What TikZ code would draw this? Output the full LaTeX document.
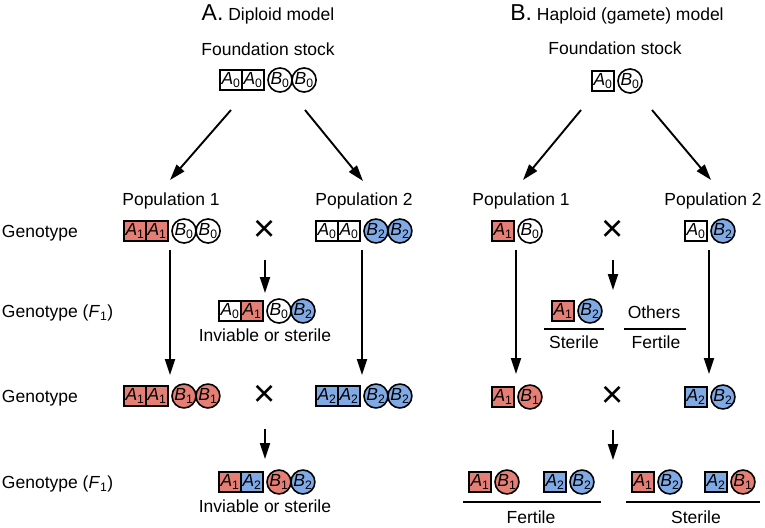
\documentclass[tikz,border=0pt]{standalone}
\usepackage{fontspec}
\setmainfont{Liberation Sans}
\usetikzlibrary{positioning, arrows.meta}
\definecolor{popred}{RGB}{229,127,117}
\definecolor{popblue}{RGB}{128,170,230}
\newcommand{\al}[2]{\textit{#1}\textsubscript{#2}}
\newcommand{\txtsize}{\fontsize{17.5}{21}\selectfont}
\newcommand{\alsize}{\fontsize{17.5}{20}\selectfont}
\tikzset{
    alA/.style={draw, rectangle, line width=1.6pt, outer sep=0pt, inner sep=0pt,
        minimum width=22pt, minimum height=20.5pt, font=\alsize},
    alB/.style={draw, circle, line width=1.6pt, outer sep=0pt, inner sep=0pt,
        minimum size=23.5pt, font=\alsize},
    rd/.style={fill=popred},
    bl/.style={fill=popblue},
    lbl/.style={inner sep=0pt, font=\txtsize},
    cross/.style={inner sep=0pt, font=\fontsize{38}{38}\selectfont},
}

\begin{document}
\begin{tikzpicture}[x=1pt, y=-1pt, >={Triangle[length=16pt,width=10pt]}, line width=1.9pt]
    \useasboundingbox (0,0) rectangle (765,527);

    % titles
    \node[lbl] (titA) at (268,14) {{\fontsize{23}{24}\selectfont A.} Diploid model};
    \node[lbl] (titB) at (617,14) {{\fontsize{23}{24}\selectfont B.} Haploid (gamete) model};
    \node[lbl] (stockA) at (268,49) {Foundation stock};
    \node[lbl] (stockB) at (615,48) {Foundation stock};

    % row labels
    \node[lbl, anchor=west] (gt1) at (1,233) {Genotype};
    \node[lbl, anchor=west] (gt2) at (1,313) {Genotype (\textit{F}\textsubscript{1})};
    \node[lbl, anchor=west] (gt3) at (1,398) {Genotype};
    \node[lbl, anchor=west] (gt4) at (1,484) {Genotype (\textit{F}\textsubscript{1})};

    % A: foundation stock
    \coordinate (fA) at (266,80);
    \node[alA, left=2pt of fA] (fAa2) {\al{A}{0}};
    \node[alA, left=0pt of fAa2] (fAa1) {\al{A}{0}};
    \node[alB, right=2pt of fA] (fAb1) {\al{B}{0}};
    \node[alB, right=0pt of fAb1] (fAb2) {\al{B}{0}};

    \node[lbl] (popA1) at (171,201) {Population 1};
    \node[lbl] (popA2) at (364,201) {Population 2};

    % A: populations
    \coordinate (gA1) at (170,231);
    \node[alA, rd, left=2pt of gA1] (gA1a2) {\al{A}{1}};
    \node[alA, rd, left=0pt of gA1a2] (gA1a1) {\al{A}{1}};
    \node[alB, right=2pt of gA1] (gA1b1) {\al{B}{0}};
    \node[alB, right=0pt of gA1b1] (gA1b2) {\al{B}{0}};

    \coordinate (gA2) at (362,231);
    \node[alA, left=2pt of gA2] (gA2a2) {\al{A}{0}};
    \node[alA, left=0pt of gA2a2] (gA2a1) {\al{A}{0}};
    \node[alB, bl, right=2pt of gA2] (gA2b1) {\al{B}{2}};
    \node[alB, bl, right=0pt of gA2b1] (gA2b2) {\al{B}{2}};

    \node[cross] (xA1) at (265,231) {×};

    % A: first F1
    \coordinate (hA1) at (265,311);
    \node[alA, rd, left=2pt of hA1] (hA1a2) {\al{A}{1}};
    \node[alA, left=0pt of hA1a2] (hA1a1) {\al{A}{0}};
    \node[alB, right=2pt of hA1] (hA1b1) {\al{B}{0}};
    \node[alB, bl, right=0pt of hA1b1] (hA1b2) {\al{B}{2}};
    \node[lbl] (invA1) at (265,335) {Inviable or sterile};

    % A: diverged populations
    \coordinate (gA3) at (170,396);
    \node[alA, rd, left=2pt of gA3] (gA3a2) {\al{A}{1}};
    \node[alA, rd, left=0pt of gA3a2] (gA3a1) {\al{A}{1}};
    \node[alB, rd, right=2pt of gA3] (gA3b1) {\al{B}{1}};
    \node[alB, rd, right=0pt of gA3b1] (gA3b2) {\al{B}{1}};

    \coordinate (gA4) at (362,396);
    \node[alA, bl, left=2pt of gA4] (gA4a2) {\al{A}{2}};
    \node[alA, bl, left=0pt of gA4a2] (gA4a1) {\al{A}{2}};
    \node[alB, bl, right=2pt of gA4] (gA4b1) {\al{B}{2}};
    \node[alB, bl, right=0pt of gA4b1] (gA4b2) {\al{B}{2}};

    \node[cross] (xA2) at (265,396) {×};

    % A: second F1
    \coordinate (hA2) at (265,482);
    \node[alA, bl, left=2pt of hA2] (hA2a2) {\al{A}{2}};
    \node[alA, rd, left=0pt of hA2a2] (hA2a1) {\al{A}{1}};
    \node[alB, rd, right=2pt of hA2] (hA2b1) {\al{B}{1}};
    \node[alB, bl, right=0pt of hA2b1] (hA2b2) {\al{B}{2}};
    \node[lbl] (invA2) at (265,506) {Inviable or sterile};

    % A: arrows
    \coordinate (sA1) at (231,110); \coordinate (eA1) at (170,180);
    \coordinate (sA2) at (305,110); \coordinate (eA2) at (363,181);
    \draw[->] (sA1) -- (eA1);
    \draw[->] (sA2) -- (eA2);
    \draw[->, shorten <=19pt, shorten >=21pt] (gA1) -- (gA3);
    \draw[->, shorten <=19pt, shorten >=21pt] (gA2) -- (gA4);
    \draw[->, shorten <=17pt, shorten >=18pt] (xA1) -- (hA1);
    \draw[->, shorten <=21pt, shorten >=23pt] (xA2) -- (hA2);

    % B: foundation stock
    \coordinate (fB) at (616,81);
    \node[alA, left=2pt of fB] (fBa) {\al{A}{0}};
    \node[alB, right=2pt of fB] (fBb) {\al{B}{0}};

    \node[lbl] (popB1) at (521,201) {Population 1};
    \node[lbl] (popB2) at (713,201) {Population 2};

    % B: populations
    \coordinate (gB1) at (516,231);
    \node[alA, rd, left=2pt of gB1] (gB1a) {\al{A}{1}};
    \node[alB, right=2pt of gB1] (gB1b) {\al{B}{0}};

    \coordinate (gB2) at (709,231);
    \node[alA, left=2pt of gB2] (gB2a) {\al{A}{0}};
    \node[alB, bl, right=2pt of gB2] (gB2b) {\al{B}{2}};

    \node[cross] (xB1) at (613,231) {×};

    % B: first F1
    \coordinate (hB1) at (613,311);
    \coordinate (kB1) at (576,311);
    \node[alA, rd, left=2pt of kB1] (kB1a) {\al{A}{1}};
    \node[alB, bl, right=2pt of kB1] (kB1b) {\al{B}{2}};
    \node[lbl] (othB) at (654,312) {Others};
    \draw (544,329) -- (604,329);
    \draw (624,329) -- (686,329);
    \node[lbl] (steB1) at (574,342) {Sterile};
    \node[lbl] (ferB1) at (656,342) {Fertile};

    % B: diverged populations
    \coordinate (gB3) at (516,397);
    \node[alA, rd, left=2pt of gB3] (gB3a) {\al{A}{1}};
    \node[alB, rd, right=2pt of gB3] (gB3b) {\al{B}{1}};

    \coordinate (gB4) at (709,397);
    \node[alA, bl, left=2pt of gB4] (gB4a) {\al{A}{2}};
    \node[alB, bl, right=2pt of gB4] (gB4b) {\al{B}{2}};

    \node[cross] (xB2) at (613,397) {×};

    % B: second F1
    \coordinate (hB2) at (613,482);
    \coordinate (kB2) at (493,482);
    \node[alA, rd, left=2pt of kB2] (kB2a) {\al{A}{1}};
    \node[alB, rd, right=2pt of kB2] (kB2b) {\al{B}{1}};
    \coordinate (kB3) at (568,482);
    \node[alA, bl, left=2pt of kB3] (kB3a) {\al{A}{2}};
    \node[alB, bl, right=2pt of kB3] (kB3b) {\al{B}{2}};
    \coordinate (kB4) at (656,482);
    \node[alA, rd, left=2pt of kB4] (kB4a) {\al{A}{1}};
    \node[alB, bl, right=2pt of kB4] (kB4b) {\al{B}{2}};
    \coordinate (kB5) at (729,482);
    \node[alA, bl, left=2pt of kB5] (kB5a) {\al{A}{2}};
    \node[alB, rd, right=2pt of kB5] (kB5b) {\al{B}{1}};
    \draw (463,502) -- (601,502);
    \draw (626,502) -- (760,502);
    \node[lbl] (ferB2) at (531,517) {Fertile};
    \node[lbl] (steB2) at (696,517) {Sterile};

    % B: arrows
    \coordinate (sB1) at (581,110); \coordinate (eB1) at (523,180);
    \coordinate (sB2) at (652,110); \coordinate (eB2) at (711,180);
    \draw[->] (sB1) -- (eB1);
    \draw[->] (sB2) -- (eB2);
    \draw[->, shorten <=19pt, shorten >=23pt] (gB1) -- (gB3);
    \draw[->, shorten <=19pt, shorten >=23pt] (gB2) -- (gB4);
    \draw[->, shorten <=17pt, shorten >=21pt] (xB1) -- (hB1);
    \draw[->, shorten <=21pt, shorten >=22pt] (xB2) -- (hB2);

\end{tikzpicture}
\end{document}
